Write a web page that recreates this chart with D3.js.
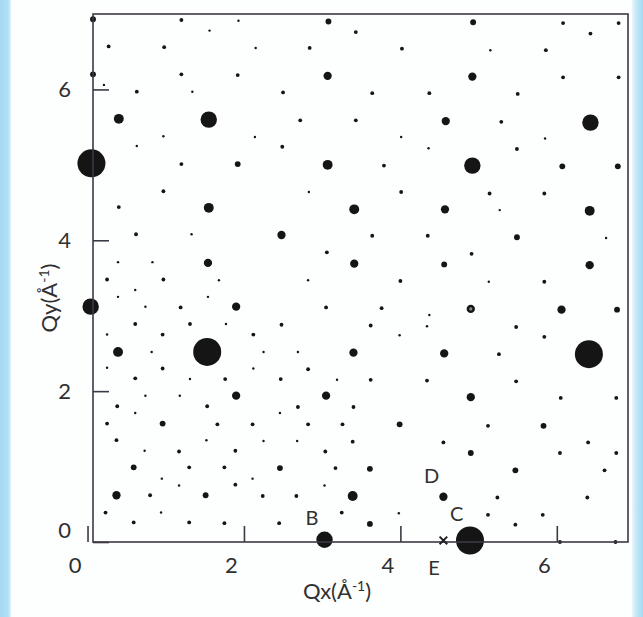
<!DOCTYPE html>
<html>
<head>
<meta charset="utf-8">
<script src="https://cdn.jsdelivr.net/npm/d3@7"></script>
<style>
  body { margin: 0; background: #a9dcf3; }
  svg { display: block; }
  text { font-family: Lato, "Noto Sans", sans-serif; fill: #303030; }
</style>
</head>
<body>
<svg id="chart" width="643" height="617"></svg>
<script>
// Reciprocal-space diffraction spots, [Qx, Qy] in Å⁻¹, grouped by relative intensity.
const veryStrongSpots = [[0.05, 5.02], [1.53, 2.52], [6.41, 2.49], [4.89, 0.02]];
const strongSpots = [[1.55, 5.60], [6.43, 5.56], [4.92, 4.99], [0.04, 3.12], [3.03, 0.03]];
const mediumStrongSpots = [[0.40, 5.61], [3.07, 5.00], [1.55, 4.43], [0.39, 2.52], [3.41, 4.41],
  [6.42, 4.39], [3.39, 0.61]];
const mediumSpots = [[3.07, 6.18], [4.92, 6.17], [4.58, 5.58], [1.54, 3.70], [2.48, 4.07],
  [3.41, 3.69], [1.90, 3.12], [3.40, 2.51], [1.90, 1.94], [3.05, 1.94], [4.57, 4.41],
  [6.42, 3.67], [4.90, 3.09], [6.06, 3.08], [4.56, 2.50], [4.90, 1.92], [0.37, 0.62],
  [4.55, 0.60]];
const moderateSpots = [[0.07, 6.93], [0.07, 6.20], [3.08, 6.90], [1.92, 5.01], [4.93, 6.89],
  [6.07, 4.98], [6.78, 4.98], [5.49, 4.04], [4.56, 3.68], [6.77, 3.08], [0.96, 1.57],
  [0.59, 0.99], [1.51, 0.62], [3.99, 1.56], [2.46, 0.98], [3.61, 0.97], [3.61, 0.24],
  [5.83, 1.54], [4.90, 1.18], [5.47, 0.95]];
const weakSpots = [[1.20, 6.92], [0.27, 6.57], [0.98, 6.56], [1.20, 6.20], [0.63, 5.97],
  [1.20, 5.01], [0.97, 4.65], [3.43, 6.76], [2.84, 6.55], [4.02, 6.54], [1.92, 6.19],
  [2.50, 5.96], [3.64, 5.95], [2.72, 5.59], [3.43, 5.59], [2.49, 5.24], [3.79, 4.99],
  [4.01, 4.64], [6.08, 6.88], [6.79, 6.88], [6.43, 6.74], [5.86, 6.52], [6.08, 6.16],
  [6.79, 6.16], [4.37, 5.95], [5.50, 5.94], [5.29, 5.57], [5.49, 5.21], [5.14, 4.62],
  [5.84, 4.62], [0.40, 4.44], [0.62, 4.08], [0.25, 3.48], [0.97, 3.48], [1.19, 3.11],
  [0.61, 2.89], [1.31, 2.89], [0.96, 2.75], [0.96, 2.30], [0.61, 2.17], [3.64, 4.06],
  [3.06, 3.84], [4.00, 3.46], [3.05, 3.11], [3.76, 3.10], [2.48, 2.88], [3.62, 2.87],
  [2.12, 2.75], [2.82, 2.29], [1.76, 2.16], [2.47, 2.16], [3.62, 2.15], [4.35, 4.06],
  [4.91, 3.82], [5.84, 3.45], [5.48, 2.85], [5.84, 2.72], [5.26, 2.49], [4.34, 2.14],
  [5.48, 2.13], [6.05, 1.91], [6.76, 1.91], [0.38, 1.80], [1.53, 1.80], [0.25, 1.57],
  [1.66, 1.56], [0.37, 1.35], [1.17, 1.20], [1.30, 0.99], [0.80, 0.62], [0.23, 0.39],
  [0.59, 0.26], [1.30, 0.26], [2.69, 1.79], [3.40, 1.79], [2.11, 1.56], [2.82, 1.56],
  [3.26, 1.56], [3.39, 1.33], [1.89, 1.21], [3.04, 1.20], [1.75, 0.99], [3.17, 0.98],
  [1.89, 0.76], [2.24, 0.61], [2.67, 0.61], [3.25, 0.39], [1.75, 0.25], [2.45, 0.25],
  [5.12, 1.54], [4.55, 1.32], [6.40, 1.32], [6.04, 1.18], [6.76, 1.18], [6.61, 0.95],
  [5.24, 0.59], [6.39, 0.59], [5.12, 0.36], [5.82, 0.36], [5.47, 0.23], [6.04, 0.00],
  [6.75, 0.00]];
const faintSpots = [[1.56, 6.78], [0.21, 6.06], [1.34, 5.97], [0.97, 5.38], [0.63, 5.25],
  [1.93, 6.91], [2.15, 6.55], [2.14, 5.37], [4.01, 5.37], [2.83, 4.64], [5.15, 6.52],
  [5.85, 5.35], [4.36, 5.22], [1.33, 4.08], [0.39, 3.71], [0.83, 3.71], [1.68, 3.47],
  [0.61, 3.34], [0.39, 3.25], [1.54, 3.25], [0.74, 3.12], [0.25, 2.75], [0.82, 2.52],
  [0.25, 2.31], [1.31, 2.16], [0.74, 1.94], [1.18, 1.94], [2.82, 3.47], [1.77, 2.89],
  [3.99, 2.74], [2.25, 2.52], [2.69, 2.52], [2.12, 2.30], [3.19, 2.15], [5.27, 4.40],
  [6.63, 4.03], [5.13, 3.45], [4.37, 3.01], [4.34, 2.86], [0.61, 1.71], [1.52, 1.35],
  [0.73, 1.21], [0.95, 0.84], [1.17, 0.75], [0.94, 0.39], [2.46, 1.71], [2.25, 1.34],
  [2.68, 1.34], [2.11, 0.84], [3.03, 0.75], [3.98, 0.38]];

// Relative intensity of each group above, same order
const groupIntensity = [160, 55, 20, 14, 7, 3, 1.2];
const spotGroups = [veryStrongSpots, strongSpots, mediumStrongSpots, mediumSpots,
  moderateSpots, weakSpots, faintSpots];

// Spot that shows a hollow (ring-shaped) centre
const ringSpots = [[4.90, 3.09]];

// Axis ticks
const qxTicks = [0, 2, 4, 6];
const qyTicks = [0, 2, 4, 6];

// Point labels and the "E" cross position
const pointLabels = ["B", "C", "D", "E"];
const pointLabelQx = [2.87, 4.72, 4.40, 4.43];
const pointLabelQy = [0.335, 0.38, 0.888, -0.327];
const crossQx = [4.55];
const crossQy = [0.02];

const svg = d3.select("#chart");
const W = 643, H = 617;
const plot = { left: 93, right: 628, top: 14, bottom: 542 };

// page background: white panel with light blue side edges
const defs = svg.append("defs");
const leftGrad = defs.append("linearGradient").attr("id", "edgeL");
leftGrad.append("stop").attr("offset", "0%").attr("stop-color", "#a3d9f2");
leftGrad.append("stop").attr("offset", "75%").attr("stop-color", "#b0e0f5");
leftGrad.append("stop").attr("offset", "100%").attr("stop-color", "#e4f4fb");
const rightGrad = defs.append("linearGradient").attr("id", "edgeR");
rightGrad.append("stop").attr("offset", "0%").attr("stop-color", "#eaf6fb");
rightGrad.append("stop").attr("offset", "40%").attr("stop-color", "#c2e7f7");
rightGrad.append("stop").attr("offset", "100%").attr("stop-color", "#a6daf2");

svg.append("rect").attr("width", W).attr("height", H).attr("fill", "#fdfefe");
svg.append("rect").attr("x", 0).attr("y", 0).attr("width", 11).attr("height", H)
  .attr("fill", "url(#edgeL)");
svg.append("rect").attr("x", 632).attr("y", 0).attr("width", 11).attr("height", H)
  .attr("fill", "url(#edgeR)");

const x = d3.scaleLinear().domain([0.07, 6.91]).range([plot.left, plot.right]);
const y = d3.scaleLinear().domain([0, 7]).range([plot.bottom, plot.top]);
const r = d3.scaleSqrt().domain([0, 160]).range([0, 14]);

// spots
const spotData = spotGroups.flatMap((g, i) => g.map(d => ({ qx: d[0], qy: d[1], I: groupIntensity[i] })));
const spots = svg.append("g");
spots.selectAll("circle")
  .data(spotData.sort((a, b) => a.I - b.I))
  .join("circle")
  .attr("cx", d => x(d.qx))
  .attr("cy", d => y(d.qy))
  .attr("r", d => r(d.I))
  .attr("fill", "#151515");
spots.append("g").selectAll("circle")
  .data(ringSpots)
  .join("circle")
  .attr("cx", d => x(d[0]))
  .attr("cy", d => y(d[1]))
  .attr("r", 1.6)
  .attr("fill", "#8a8a8a");

// frame
svg.append("rect")
  .attr("x", plot.left).attr("y", plot.top)
  .attr("width", plot.right - plot.left).attr("height", plot.bottom - plot.top)
  .attr("fill", "none").attr("stroke", "#3d3944").attr("stroke-width", 1.6);

// axes with inward ticks
const xAxis = svg.append("g")
  .attr("transform", `translate(0,${plot.bottom})`)
  .call(d3.axisBottom(x).tickValues(qxTicks).tickFormat(d3.format("d"))
    .tickSizeInner(-16).tickSizeOuter(0).tickPadding(15));
xAxis.select(".domain").remove();
xAxis.selectAll(".tick line").attr("stroke", "#3d3944").attr("stroke-width", 1.6);
xAxis.selectAll(".tick text").attr("dx", -13).style("font-size", "22px")
  .style("font-family", "Lato, sans-serif").attr("fill", "#303030");

const yAxis = svg.append("g")
  .attr("transform", `translate(${plot.left},0)`)
  .call(d3.axisLeft(y).tickValues(qyTicks).tickFormat(d3.format("d"))
    .tickSizeInner(-16).tickSizeOuter(0).tickPadding(22));
yAxis.select(".domain").remove();
yAxis.selectAll(".tick line").attr("stroke", "#3d3944").attr("stroke-width", 1.6);
yAxis.selectAll(".tick text").style("font-size", "22px")
  .style("font-family", "Lato, sans-serif").attr("fill", "#303030")
  .attr("dy", d => d === 0 ? "-0.22em" : "0.32em");

// axis titles
const xt = svg.append("text")
  .attr("x", 337).attr("y", 599)
  .attr("text-anchor", "middle")
  .style("font-size", "22px");
xt.append("tspan").text("Qx(Å");
xt.append("tspan").text("-1").attr("dy", -8).style("font-size", "14px");
xt.append("tspan").text(")").attr("dy", 8);

const yt = svg.append("text")
  .attr("transform", "translate(57,298) rotate(-90)")
  .attr("text-anchor", "middle")
  .style("font-size", "22px");
yt.append("tspan").text("Qy(Å");
yt.append("tspan").text("-1").attr("dy", -8).style("font-size", "14px");
yt.append("tspan").text(")").attr("dy", 8);

// point labels
svg.append("g").selectAll("text")
  .data(pointLabels)
  .join("text")
  .attr("x", (d, i) => x(pointLabelQx[i]))
  .attr("y", (d, i) => y(pointLabelQy[i]))
  .attr("text-anchor", "middle")
  .attr("dominant-baseline", "central")
  .style("font-size", "20px")
  .text(d => d);

// cross marking E
svg.append("g").selectAll("path")
  .data(crossQx)
  .join("path")
  .attr("transform", (d, i) => `translate(${x(d)},${y(crossQy[i])})`)
  .attr("d", d3.symbol(d3.symbolX, 40))
  .attr("fill", "none").attr("stroke", "#202020").attr("stroke-width", 2);
</script>
</body>
</html>
